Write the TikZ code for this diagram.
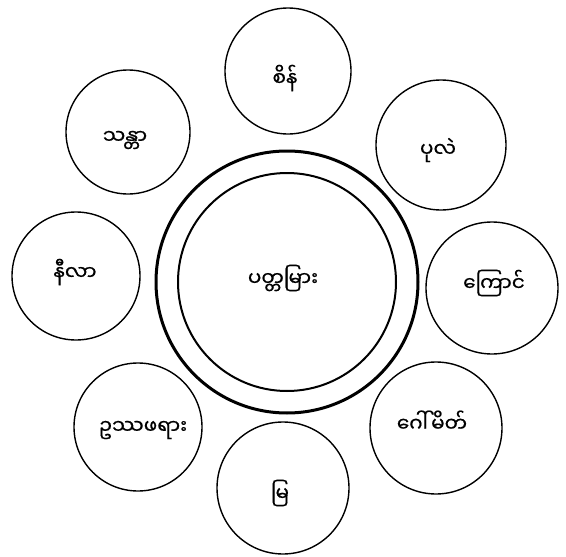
\documentclass[tikz,border=0pt]{standalone}
\usepackage{fontspec}
\newfontfamily\mya[Script=Myanmar,FakeBold=0.6]{Noto Sans Myanmar UI}
\tikzset{
  gem/.style={circle, draw=black, line width=1.4pt, minimum size=128pt, inner sep=0pt},
  lbl/.style={font=\mya\fontsize{20}{22}\selectfont, inner sep=0pt},
  outerring/.style={draw=black, line width=3pt},
  innerring/.style={draw=black, line width=2pt}
}
\begin{document}
\begin{tikzpicture}[x=1pt,y=-1pt]
\useasboundingbox (0,0) rectangle (566,557);
\node[circle, outerring, minimum size=262pt, inner sep=0pt] (outer) at (287,282) {};
\node[circle, innerring, minimum size=218pt, inner sep=0pt] (inner) at (287,282) {};
\node[lbl] (center) at (283,278) {ပတ္တမြား};
\node[gem, minimum size=126pt] (c1) at (288,71) {};
\node[gem, minimum size=130pt] (c2) at (441,145) {};
\node[gem, minimum size=132pt] (c3) at (492,288) {};
\node[gem, minimum size=132pt] (c4) at (436,428) {};
\node[gem, minimum size=132pt] (c5) at (283,488) {};
\node[gem, minimum size=128pt] (c6) at (138,427) {};
\node[gem, minimum size=128pt] (c7) at (76,276) {};
\node[gem, minimum size=124pt] (c8) at (128,132) {};
\node[lbl] (t1) at (285,78) {စိန်};
\node[lbl] (t2) at (438,150) {ပုလဲ};
\node[lbl] (t3) at (494,283) {ကြောင်};
\node[lbl] (t4) at (432,421) {ဂေါ်မိတ်};
\node[lbl] (t5) at (280,493) {မြ};
\node[lbl] (t6) at (143,430) {ဥဿဖရား};
\node[lbl] (t7) at (75,272) {နီလာ};
\node[lbl] (t8) at (125,140) {သန္တာ};
\end{tikzpicture}
\end{document}
